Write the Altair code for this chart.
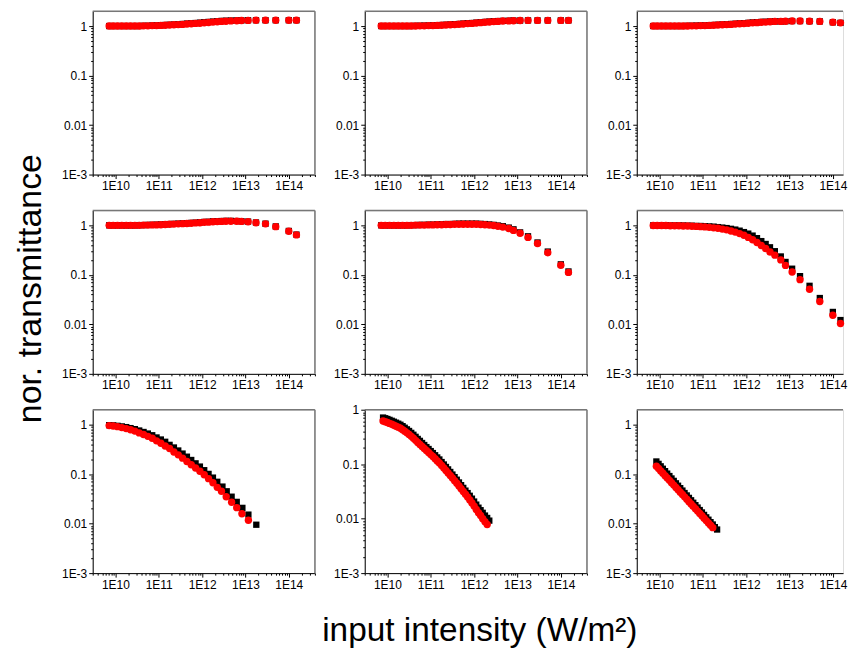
import altair as alt
import pandas as pd

# ---------------- data ----------------
# shared intensity grid of the upper six panels (W/m^2)
X_MAIN = [7.2e9, 8.9e9, 1.12e10, 1.41e10, 1.78e10, 2.24e10, 2.82e10, 3.55e10, 4.47e10,
          5.62e10, 7.08e10, 8.91e10, 1.12e11, 1.41e11, 1.78e11, 2.24e11, 2.82e11, 3.55e11,
          4.47e11, 5.62e11, 7.08e11, 8.91e11, 1.12e12, 1.41e12, 1.78e12, 2.24e12, 2.82e12,
          3.55e12, 4.6e12, 6.3e12, 8.1e12, 1.15e13, 1.75e13, 2.9e13, 5.0e13, 1.0e14, 1.5e14]

P1_BLACK = [1.0, 1.0, 1.0, 1.0, 1.0, 1.0, 1.0, 1.0, 1.01, 1.01, 1.02, 1.03,
            1.04, 1.05, 1.06, 1.07, 1.08, 1.1, 1.12, 1.13, 1.15, 1.17,
            1.19, 1.21, 1.23, 1.25, 1.27, 1.28, 1.29, 1.3, 1.3, 1.31, 1.31, 1.31, 1.31, 1.31, 1.31]
P1_RED = [1.0, 1.0, 1.0, 1.0, 1.0, 1.0, 1.0, 1.0, 1.01, 1.01, 1.02, 1.02,
          1.03, 1.04, 1.05, 1.06, 1.07, 1.08, 1.1, 1.11, 1.13, 1.14,
          1.16, 1.18, 1.2, 1.22, 1.24, 1.25, 1.27, 1.28, 1.29, 1.3, 1.31, 1.31, 1.31, 1.31, 1.31]

P2_BLACK = [1.0, 1.0, 1.0, 1.0, 1.0, 1.0, 1.0, 1.0, 1.01, 1.01, 1.02, 1.02,
            1.03, 1.04, 1.05, 1.06, 1.07, 1.09, 1.1, 1.12, 1.14, 1.15,
            1.17, 1.19, 1.21, 1.23, 1.25, 1.26, 1.27, 1.28, 1.29, 1.29, 1.3, 1.3, 1.3, 1.3, 1.3]
P2_RED = [1.0, 1.0, 1.0, 1.0, 1.0, 1.0, 1.0, 1.0, 1.0, 1.01, 1.01, 1.02,
          1.02, 1.03, 1.04, 1.05, 1.06, 1.07, 1.09, 1.1, 1.12, 1.13,
          1.15, 1.17, 1.19, 1.21, 1.23, 1.24, 1.26, 1.27, 1.28, 1.29, 1.3, 1.3, 1.3, 1.3, 1.3]

P3_BLACK = [1.0, 1.0, 1.0, 1.0, 1.0, 1.0, 1.0, 1.0, 1.01, 1.01, 1.02, 1.02,
            1.03, 1.04, 1.05, 1.06, 1.07, 1.08, 1.1, 1.11, 1.13, 1.14,
            1.16, 1.18, 1.19, 1.21, 1.22, 1.23, 1.24, 1.24, 1.25, 1.26, 1.26, 1.25, 1.24, 1.19, 1.16]
P3_RED = [1.0, 1.0, 1.0, 1.0, 1.0, 1.0, 1.0, 1.0, 1.0, 1.01, 1.01, 1.02,
          1.02, 1.03, 1.04, 1.05, 1.06, 1.07, 1.08, 1.1, 1.11, 1.12,
          1.14, 1.16, 1.17, 1.19, 1.2, 1.22, 1.24, 1.24, 1.25, 1.26, 1.26, 1.25, 1.24, 1.19, 1.16]

P4_BLACK = [1.0, 1.0, 1.0, 1.0, 1.0, 1.0, 1.0, 1.01, 1.01, 1.02, 1.02, 1.03,
            1.04, 1.05, 1.06, 1.07, 1.08, 1.09, 1.1, 1.12, 1.13, 1.15,
            1.17, 1.18, 1.2, 1.21, 1.22, 1.23, 1.23, 1.22, 1.21, 1.19, 1.14, 1.08, 0.95, 0.77, 0.65]
P4_RED = [1.0, 1.0, 1.0, 1.0, 1.0, 1.0, 1.0, 1.0, 1.01, 1.01, 1.02, 1.02,
          1.03, 1.04, 1.05, 1.06, 1.07, 1.08, 1.09, 1.1, 1.12, 1.13,
          1.15, 1.16, 1.18, 1.19, 1.2, 1.21, 1.21, 1.21, 1.2, 1.18, 1.13, 1.07, 0.94, 0.76, 0.64]

P5_BLACK = [1.0, 1.0, 1.0, 1.0, 1.0, 1.0, 1.0, 1.01, 1.01, 1.02, 1.02, 1.03,
            1.03, 1.04, 1.05, 1.06, 1.06, 1.07, 1.08, 1.08, 1.08, 1.08,
            1.08, 1.07, 1.06, 1.04, 1.02, 0.99, 0.96, 0.9, 0.83, 0.72, 0.6, 0.45, 0.295, 0.163, 0.117]
P5_RED = [1.0, 1.0, 1.0, 1.0, 1.0, 1.0, 1.0, 1.0, 1.01, 1.01, 1.01, 1.02,
          1.02, 1.03, 1.03, 1.04, 1.04, 1.05, 1.05, 1.05, 1.05, 1.05,
          1.05, 1.04, 1.03, 1.01, 0.99, 0.96, 0.92, 0.86, 0.79, 0.69, 0.57, 0.43, 0.28, 0.156, 0.112]

P6_BLACK = [1.0, 1.0, 1.0, 1.0, 0.99, 0.99, 0.99, 0.99, 0.98, 0.98, 0.97, 0.97,
            0.96, 0.95, 0.94, 0.92, 0.9, 0.88, 0.85, 0.82, 0.78, 0.73,
            0.68, 0.62, 0.55, 0.48, 0.42, 0.36, 0.3, 0.235, 0.182, 0.133, 0.094, 0.06, 0.034, 0.0178, 0.0122]
P6_RED = [0.99, 0.99, 0.99, 0.99, 0.98, 0.98, 0.98, 0.97, 0.97, 0.96, 0.95, 0.94,
          0.93, 0.91, 0.89, 0.87, 0.84, 0.81, 0.77, 0.73, 0.68, 0.63,
          0.57, 0.51, 0.45, 0.39, 0.34, 0.29, 0.25, 0.2, 0.155, 0.114, 0.08, 0.051, 0.029, 0.0153, 0.0104]

# bottom-left panel
P7_X_BLACK = X_MAIN[:26] + [2.95e12, 3.7e12, 4.8e12, 6.3e12, 8.5e12, 1.17e13, 1.78e13]
P7_BLACK = [0.975, 0.965, 0.945, 0.92, 0.89, 0.85, 0.81, 0.76, 0.71, 0.66, 0.61, 0.55,
            0.5, 0.45, 0.39, 0.345, 0.3, 0.26, 0.225, 0.193, 0.165, 0.142,
            0.12, 0.101, 0.085, 0.07, 0.056, 0.045, 0.035, 0.0275, 0.0208, 0.0152, 0.0095]
P7_X_RED = X_MAIN[:26] + [2.8e12, 3.6e12, 4.8e12, 6.3e12, 8.3e12, 1.17e13]
P7_RED = [0.955, 0.94, 0.91, 0.87, 0.83, 0.79, 0.74, 0.68, 0.63, 0.58, 0.53, 0.47,
          0.42, 0.37, 0.33, 0.28, 0.245, 0.21, 0.18, 0.155, 0.133, 0.114,
          0.097, 0.081, 0.067, 0.054, 0.045, 0.035, 0.027, 0.021, 0.0158, 0.0117]

# bottom-middle panel
P8_X_RED = [7.94e9, 8.91e9, 1e10, 1.12e10, 1.26e10, 1.41e10, 1.58e10, 1.78e10, 2e10, 2.24e10,
            2.51e10, 2.82e10, 3.16e10, 3.55e10, 3.98e10, 4.47e10, 5.01e10, 5.62e10, 6.31e10,
            7.08e10, 7.94e10, 8.91e10, 1e11, 1.12e11, 1.26e11, 1.41e11, 1.58e11, 1.78e11, 2e11,
            2.24e11, 2.51e11, 2.82e11, 3.16e11, 3.55e11, 3.98e11, 4.47e11, 5.01e11, 5.62e11,
            6.31e11, 7.08e11, 7.94e11, 8.91e11, 1e12, 1.12e12, 1.26e12, 1.41e12, 1.58e12,
            1.78e12, 2e12]
P8_RED = [0.619, 0.601, 0.582, 0.561, 0.54, 0.519, 0.498, 0.478, 0.457, 0.43, 0.403, 0.376,
          0.351, 0.324, 0.299, 0.274, 0.251, 0.231, 0.211, 0.194, 0.178, 0.164, 0.15, 0.138,
          0.126, 0.115, 0.105, 0.0944, 0.0851, 0.0767, 0.0692, 0.0621, 0.0556, 0.0499, 0.0447,
          0.0398, 0.0355, 0.0316, 0.0282, 0.025, 0.0221, 0.0194, 0.017, 0.0148, 0.0129, 0.0114,
          0.01, 0.0088, 0.0078]
P8_X_BLACK = P8_X_RED + [2.24e12]
P8_BLACK = [0.718, 0.697, 0.675, 0.651, 0.626, 0.602, 0.578, 0.554, 0.53, 0.499, 0.467, 0.436,
            0.407, 0.376, 0.347, 0.318, 0.291, 0.268, 0.245, 0.225, 0.206, 0.19, 0.174, 0.16,
            0.146, 0.133, 0.122, 0.1095, 0.0987, 0.089, 0.0803, 0.072, 0.0645, 0.0579, 0.0519,
            0.0462, 0.0412, 0.0367, 0.0327, 0.0295, 0.0263, 0.0233, 0.0206, 0.0181, 0.0159,
            0.0143, 0.0128, 0.0114, 0.0103, 0.0092]

# bottom-right panel
P9_X_RED = [8.5e9, 9.55e9, 1.07e10, 1.2e10, 1.35e10, 1.51e10, 1.7e10, 1.9e10, 2.14e10, 2.4e10,
            2.69e10, 3.02e10, 3.39e10, 3.8e10, 4.27e10, 4.79e10, 5.37e10, 6.03e10, 6.76e10,
            7.59e10, 8.51e10, 9.55e10, 1.07e11, 1.2e11, 1.35e11, 1.51e11, 1.7e11]
P9_RED = [0.1445, 0.1295, 0.116, 0.104, 0.0932, 0.0835, 0.0748, 0.067, 0.06, 0.0538, 0.0482,
          0.0432, 0.0387, 0.0347, 0.031, 0.0278, 0.0249, 0.0223, 0.02, 0.0179, 0.016, 0.0144,
          0.0129, 0.0115, 0.0103, 0.0093, 0.0083]
P9_X_BLACK = P9_X_RED + [1.9e11, 2.14e11]
P9_BLACK = [0.18, 0.161, 0.1437, 0.1284, 0.1147, 0.1024, 0.0915, 0.0817, 0.073, 0.0652, 0.0583,
            0.052, 0.0465, 0.0415, 0.0371, 0.0331, 0.0296, 0.0264, 0.0236, 0.0211, 0.0188,
            0.0168, 0.015, 0.0134, 0.012, 0.0107, 0.0096, 0.0085, 0.0076]

X_TITLE = "input intensity (W/m²)"
Y_TITLE = "nor. transmittance"

# ---------------- styling / layout ----------------
FONT = "Liberation Sans"
XDOM = [3e9, 4e14]
XDOM_LAST = [3e9, 1.716e14]     # right column is cut by the page edge (same px per decade)
YDOM = [1e-3, 2]
YDOM_TOP1 = [1e-3, 1]
W, W_LAST, H = 223, 207, 164
BORDER = "#777777"

IS_MAJOR = "abs(log(datum.value)/LN10 - round(log(datum.value)/LN10)) < 0.01"


def tick_values(lo, hi, stop_at_major=False):
    vals = []
    for e in range(-4, 16):
        for m in range(1, 10):
            v = float(f"{m}e{e}")
            if lo * 0.999 <= v <= hi * 1.001:
                vals.append(v)
    if stop_at_major:
        top_major = max(v for v in vals if abs(float(f"{v:e}".split("e")[0]) - 1) < 1e-9)
        vals = [v for v in vals if v <= top_major * 1.001]
    return vals


def common_axis(values, label_expr, title, title_size, title_pad, title_x=None, title_y=None):
    kw = dict(values=values, labelExpr=label_expr,
              tickSize={"condition": {"test": IS_MAJOR, "value": 4}, "value": 2},
              labelFont=FONT, labelFontSize=12, labelColor="black",
              tickColor="black", domainColor="black", domainWidth=1, tickWidth=1,
              grid=False, labelOverlap=False, labelFlush=False, labelPadding=2)
    if title:
        kw.update(title=title, titleFont=FONT, titleFontSize=title_size, titleFontWeight="normal",
                  titleColor="black", titlePadding=title_pad)
        if title_x is not None:
            kw["titleX"] = title_x
        if title_y is not None:
            kw["titleY"] = title_y
    else:
        kw["title"] = None
    return alt.Axis(**kw)


def x_axis(dom, title=None):
    expr = f"{IS_MAJOR} ? '1E' + round(log(datum.value)/LN10) : ''"
    return common_axis(tick_values(dom[0], dom[1]), expr, title, 33.5, 25, title_x=115)


def y_axis(dom, title=None):
    expr = (f"{IS_MAJOR} ? (datum.value > 0.5 ? '1' : datum.value > 0.05 ? '0.1' : "
            "datum.value > 0.005 ? '0.01' : '1E-3') : ''")
    return common_axis(tick_values(dom[0], dom[1], stop_at_major=True), expr, title, 34, 14,
                       title_y=78)


def panel(xb, yb, xr, yr, ydom, last_col=False, xtitle=None, ytitle=None):
    xdom = XDOM_LAST if last_col else XDOM
    width = W_LAST if last_col else W
    db = pd.DataFrame({"x": xb, "y": yb})
    dr = pd.DataFrame({"x": xr, "y": yr})
    X = alt.X("x:Q", scale=alt.Scale(type="log", domain=xdom, nice=False), axis=x_axis(xdom, xtitle))
    Y = alt.Y("y:Q", scale=alt.Scale(type="log", domain=ydom, nice=False), axis=y_axis(ydom, ytitle))
    one = pd.DataFrame({"k": [0]})
    top = alt.Chart(one).mark_rule(color=BORDER, strokeWidth=1.5).encode(
        x=alt.value(0), x2=alt.value(width), y=alt.value(0))
    layers = [top]
    if not last_col:
        right = alt.Chart(one).mark_rule(color=BORDER, strokeWidth=1.5).encode(
            x=alt.value(width), y=alt.value(0), y2=alt.value(H))
        layers.append(right)
    black = alt.Chart(db).mark_square(size=40, color="black", opacity=1).encode(x=X, y=Y)
    red = alt.Chart(dr).mark_circle(size=55, color="#ff0000", opacity=1).encode(x=X, y=Y)
    layers += [black, red]
    return alt.layer(*layers).properties(width=width, height=H)


panels = [
    panel(X_MAIN, P1_BLACK, X_MAIN, P1_RED, YDOM),
    panel(X_MAIN, P2_BLACK, X_MAIN, P2_RED, YDOM),
    panel(X_MAIN, P3_BLACK, X_MAIN, P3_RED, YDOM, last_col=True),
    panel(X_MAIN, P4_BLACK, X_MAIN, P4_RED, YDOM, ytitle=Y_TITLE),
    panel(X_MAIN, P5_BLACK, X_MAIN, P5_RED, YDOM),
    panel(X_MAIN, P6_BLACK, X_MAIN, P6_RED, YDOM, last_col=True),
    panel(P7_X_BLACK, P7_BLACK, P7_X_RED, P7_RED, YDOM),
    panel(P8_X_BLACK, P8_BLACK, P8_X_RED, P8_RED, YDOM_TOP1, xtitle=X_TITLE),
    panel(P9_X_BLACK, P9_BLACK, P9_X_RED, P9_RED, YDOM, last_col=True),
]

chart = alt.concat(*panels, columns=3, spacing={"row": 36, "column": 50}, bounds="flush").properties(
    padding={"left": 5, "top": 0, "right": 0, "bottom": 0}
).configure_view(stroke="transparent").configure(background="white")

chart.save("out.html", embed_options={"renderer": "svg", "actions": False})
